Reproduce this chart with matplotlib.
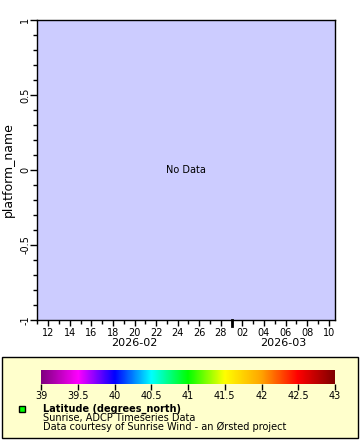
import numpy as np
import matplotlib
matplotlib.use("Agg")
import matplotlib.pyplot as plt
import matplotlib.dates as mdates
from matplotlib.colors import LinearSegmentedColormap
from matplotlib.patches import Rectangle
import datetime as dt

plt.rcParams['font.family'] = ['DejaVu Sans']

# data (empty -> "No Data")
times = []
platform = []
t_start = dt.datetime(2026, 2, 10, 23, 0)
t_end = dt.datetime(2026, 3, 10, 14, 0)
y_ticks = [-1, -0.5, 0, 0.5, 1]
cbar_ticks = [39, 39.5, 40, 40.5, 41, 41.5, 42, 42.5, 43]
cbar_colors = ['#800080', '#ff00ff', '#0000ff', '#00ffff', '#00ff00',
               '#ffff00', '#ffa500', '#ff0000', '#800000']

W, H = 360, 440
fig = plt.figure(figsize=(W / 100, H / 100), dpi=100)

def px(x0, y0, x1, y1):
    return [x0 / W, 1 - y1 / H, (x1 - x0) / W, (y1 - y0) / H]

ax = fig.add_axes(px(37, 20, 335, 320))
ax.set_facecolor('#ccccff')
ax.plot(times, platform)
ax.set_xlim(t_start, t_end)
ax.set_ylim(-1, 1)
ax.text(0.5, 0.5, 'No Data', transform=ax.transAxes, ha='center', va='center', fontsize=7)

ax.set_yticks(y_ticks)
ax.set_yticklabels(['-1', '-0.5', '0', '0.5', '1'], rotation=90, va='center', fontsize=7)
ax.yaxis.set_minor_locator(matplotlib.ticker.MultipleLocator(0.1))
ax.tick_params(axis='y', which='major', length=5, width=1, pad=0)
ax.tick_params(axis='y', which='minor', length=3, width=1)
ax.set_ylabel('platform_name', fontsize=9, labelpad=4)

ax.xaxis.set_major_locator(mdates.DayLocator(bymonthday=range(2, 32, 2)))
ax.xaxis.set_major_formatter(mdates.DateFormatter('%d'))
ax.xaxis.set_minor_locator(mdates.DayLocator())
ax.tick_params(axis='x', which='major', length=4, width=1, labelsize=7, pad=2)
ax.tick_params(axis='x', which='minor', length=3, width=1)
# month boundary tick
mb = mdates.date2num(dt.datetime(2026, 3, 1))
ax.plot([mb, mb], [0, -0.02], transform=ax.get_xaxis_transform(), color='black',
        lw=2, clip_on=False)
for s in ax.spines.values():
    s.set_linewidth(1)

# month labels centred on visible part of month
x0n, x1n = mdates.date2num(t_start), mdates.date2num(t_end)
for lab, a, b in [('2026-02', x0n, mb), ('2026-03', mb, x1n)]:
    ax.text((a + b) / 2, -0.078, lab, transform=ax.get_xaxis_transform(),
            ha='center', va='center', fontsize=8)

# legend box
fig.patches.append(Rectangle((2 / W, 1 - 438 / H), 356 / W, 81 / H,
                             transform=fig.transFigure, facecolor='#ffffcc',
                             edgecolor='black', lw=1, zorder=-1))

cmap = LinearSegmentedColormap.from_list('rb2', cbar_colors)
cax = fig.add_axes(px(41, 370, 335, 384))
cax.set_zorder(2)
grad = np.linspace(39, 43, 256).reshape(1, -1)
cax.imshow(grad, aspect='auto', cmap=cmap, extent=[39, 43, 0, 1])
cax.set_xlim(39, 43)
cax.set_yticks([])
cax.set_xticks(cbar_ticks)
cax.set_xticklabels([('%g' % v) for v in cbar_ticks], fontsize=7)
cax.tick_params(axis='x', length=4, width=1, pad=1)
for s in cax.spines.values():
    s.set_visible(False)

fig.patches.append(Rectangle((19 / W, 1 - 412 / H), 6 / W, 6 / H,
                             transform=fig.transFigure, facecolor='#00ff00',
                             edgecolor='black', lw=1))
fig.text(43 / W, 1 - 409 / H, 'Latitude (degrees_north)', fontsize=7,
         fontweight='bold', va='center')
fig.text(43 / W, 1 - 418 / H, 'Sunrise, ADCP Timeseries Data', fontsize=7, va='center')
fig.text(43 / W, 1 - 427 / H, 'Data courtesy of Sunrise Wind - an Ørsted project',
         fontsize=7, va='center')

fig.savefig('out.png', dpi=100)
